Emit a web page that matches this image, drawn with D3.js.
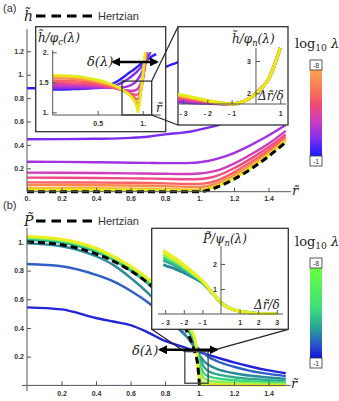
<!DOCTYPE html>
<html>
<head>
<meta charset="utf-8">
<script src="https://cdn.jsdelivr.net/npm/d3@7"></script>
<style>
body { margin: 0; background: #fff; }
.tk text { font: bold 7px "Liberation Sans", Arial, sans-serif; fill: #333; }
.tk line, .tk path { stroke: #555; }
.m { font-family: "DejaVu Serif", serif; font-style: italic; fill: #222; }
.s { font-family: "Liberation Sans", Arial, sans-serif; fill: #333; }
</style>
</head>
<body>
<svg id="chart" width="339" height="401"></svg>
<script>
'use strict';

// ---- panel (a): film thickness ----
const rA = [0, 0.2, 0.4, 0.6, 0.7, 0.8, 0.9, 0.95, 1.0, 1.05, 1.1, 1.2, 1.3, 1.4, 1.5];
const hertzA = [0, 0, 0, 0, 0, 0, 0, 0, 0, 0.013, 0.038, 0.107, 0.196, 0.302, 0.423];
const colorsA = ["#2b1fff", "#7a2cf2", "#a231e2", "#cf3cbc", "#ee4a86", "#fb6063", "#fd8a4c", "#fdb83c", "#e4ec18"];
const hA = [
  [0.884, 0.886, 0.895, 0.93, 0.99, 1.065, 1.12, 1.15, 1.18, 1.21, 1.25, 1.33, 1.42, 1.52, 1.63],
  [0.448, 0.449, 0.452, 0.46, 0.47, 0.49, 0.505, 0.515, 0.53, 0.547, 0.566, 0.62, 0.69, 0.77, 0.86],
  [0.256, 0.255, 0.252, 0.248, 0.246, 0.244, 0.244, 0.246, 0.252, 0.262, 0.28, 0.33, 0.40, 0.48, 0.57],
  [0.163, 0.162, 0.16, 0.157, 0.155, 0.153, 0.151, 0.151, 0.155, 0.165, 0.18, 0.24, 0.32, 0.41, 0.52],
  [0.12, 0.119, 0.117, 0.114, 0.112, 0.11, 0.107, 0.106, 0.108, 0.117, 0.135, 0.2, 0.285, 0.38, 0.49],
  [0.08, 0.079, 0.078, 0.076, 0.074, 0.071, 0.067, 0.066, 0.067, 0.075, 0.095, 0.165, 0.255, 0.355, 0.47],
  [0.057, 0.056, 0.055, 0.053, 0.051, 0.048, 0.043, 0.04, 0.04, 0.05, 0.07, 0.14, 0.23, 0.335, 0.452],
  [0.03, 0.03, 0.029, 0.027, 0.026, 0.024, 0.02, 0.017, 0.016, 0.03, 0.055, 0.125, 0.215, 0.32, 0.44],
  [0.016, 0.016, 0.015, 0.014, 0.013, 0.012, 0.010, 0.008, 0.007, 0.02, 0.045, 0.115, 0.205, 0.31, 0.43]
];

// inset 1: h / phi_c
const r1 = [0, 0.2, 0.4, 0.6, 0.7, 0.8, 0.85, 0.9, 0.925, 0.95, 0.975, 1.0, 1.025, 1.05, 1.075, 1.1, 1.15];
const h1 = [
  [1.38, 1.385, 1.40, 1.44, 1.50, 1.60, 1.66, 1.71, 1.74, 1.77, 1.80, 1.83, 1.86, 1.88, 1.90, 1.93, 1.97],
  [1.40, 1.40, 1.40, 1.42, 1.45, 1.52, 1.57, 1.63, 1.66, 1.70, 1.74, 1.79, 1.84, 1.90, 1.97, 2.04, 2.2],
  [1.42, 1.42, 1.42, 1.41, 1.41, 1.42, 1.44, 1.48, 1.51, 1.56, 1.62, 1.70, 1.82, 2.0, 2.2, 2.4, 2.8],
  [1.45, 1.45, 1.44, 1.42, 1.40, 1.37, 1.36, 1.36, 1.37, 1.40, 1.47, 1.58, 1.77, 2.05, 2.35, 2.6, 3.0],
  [1.49, 1.48, 1.47, 1.43, 1.40, 1.35, 1.32, 1.30, 1.29, 1.30, 1.38, 1.53, 1.78, 2.1, 2.4, 2.7, 3.0],
  [1.53, 1.52, 1.50, 1.45, 1.41, 1.35, 1.31, 1.26, 1.23, 1.22, 1.33, 1.53, 1.83, 2.15, 2.45, 2.7, 3.1],
  [1.57, 1.56, 1.53, 1.47, 1.42, 1.35, 1.30, 1.23, 1.18, 1.13, 1.30, 1.55, 1.88, 2.2, 2.5, 2.8, 3.2],
  [1.60, 1.59, 1.55, 1.48, 1.43, 1.35, 1.29, 1.21, 1.15, 1.06, 1.28, 1.58, 1.93, 2.25, 2.6, 2.9, 3.3],
  [1.62, 1.61, 1.57, 1.50, 1.44, 1.35, 1.29, 1.20, 1.13, 1.00, 1.30, 1.62, 1.98, 2.3, 2.6, 2.9, 3.3]
];

// inset 2: h / phi_n against (r - 1) / delta
const d2 = [-3.2, -3, -2.5, -2, -1.5, -1, -0.5, 0, 0.25, 0.5, 0.75, 1.0];
const h2 = [
  [1.73, 1.72, 1.70, 1.69, 1.675, 1.67, 1.75, 2.0, 2.18, 2.42, 2.85, 3.4],
  [1.77, 1.76, 1.73, 1.70, 1.68, 1.67, 1.75, 2.0, 2.18, 2.42, 2.85, 3.4],
  [1.82, 1.80, 1.76, 1.72, 1.69, 1.67, 1.75, 2.0, 2.18, 2.42, 2.85, 3.4],
  [1.86, 1.84, 1.79, 1.73, 1.69, 1.67, 1.75, 2.0, 2.18, 2.42, 2.85, 3.4],
  [1.90, 1.87, 1.81, 1.75, 1.70, 1.67, 1.75, 2.0, 2.18, 2.42, 2.85, 3.4],
  [1.93, 1.90, 1.83, 1.76, 1.70, 1.67, 1.75, 2.0, 2.18, 2.42, 2.85, 3.4],
  [1.95, 1.92, 1.85, 1.77, 1.71, 1.67, 1.75, 2.0, 2.18, 2.42, 2.85, 3.4],
  [1.97, 1.94, 1.86, 1.78, 1.71, 1.67, 1.75, 2.0, 2.18, 2.42, 2.85, 3.4]
];

// ---- panel (b): pressure ----
const rB = [0, 0.2, 0.4, 0.5, 0.6, 0.7, 0.8, 0.9, 0.95, 0.975, 1.0, 1.025, 1.05, 1.1, 1.2, 1.3, 1.4, 1.5];
const rBH = [0, 0.2, 0.4, 0.5, 0.6, 0.7, 0.8, 0.9, 0.95, 0.975, 0.99, 1.0];
const hertzB = [1, 0.98, 0.917, 0.866, 0.8, 0.714, 0.6, 0.436, 0.312, 0.222, 0.141, 0];
const colorsB = ["#2323d8", "#2e5ec6", "#2a8a9c", "#2ca98e", "#3cd47e", "#7def58", "#c4f23a", "#eeee1e"];
const pB = [
  [0.544, 0.53, 0.47, 0.445, 0.42, 0.37, 0.31, 0.27, 0.25, 0.24, 0.232, 0.222, 0.213, 0.195, 0.16, 0.13, 0.105, 0.085],
  [0.846, 0.83, 0.77, 0.725, 0.66, 0.58, 0.48, 0.37, 0.31, 0.28, 0.25, 0.225, 0.2, 0.17, 0.13, 0.1, 0.08, 0.065],
  [0.99, 0.97, 0.9, 0.84, 0.75, 0.645, 0.52, 0.38, 0.3, 0.255, 0.21, 0.17, 0.145, 0.115, 0.085, 0.067, 0.055, 0.046],
  [1.015, 0.995, 0.93, 0.875, 0.8, 0.71, 0.59, 0.44, 0.35, 0.29, 0.2, 0.13, 0.1, 0.078, 0.057, 0.045, 0.037, 0.032],
  [1.025, 1.005, 0.94, 0.885, 0.815, 0.725, 0.615, 0.465, 0.37, 0.30, 0.16, 0.085, 0.065, 0.05, 0.036, 0.028, 0.023, 0.02],
  [1.03, 1.01, 0.948, 0.892, 0.822, 0.735, 0.625, 0.475, 0.38, 0.31, 0.12, 0.05, 0.035, 0.026, 0.019, 0.015, 0.012, 0.01],
  [1.035, 1.015, 0.953, 0.897, 0.828, 0.742, 0.632, 0.482, 0.386, 0.315, 0.07, 0.02, 0.015, 0.011, 0.008, 0.006, 0.005, 0.004],
  [1.04, 1.02, 0.958, 0.902, 0.834, 0.748, 0.638, 0.488, 0.392, 0.32, 0.03, 0.005, 0.004, 0.003, 0.002, 0.001, 0.001, 0]
];

// inset 3: P / psi_n against (r - 1) / delta
const d3x = [-3.1, -3, -2.5, -2, -1.5, -1, -0.5, 0, 0.5, 1, 1.5, 2, 2.5, 3];
const p3 = [
  [1.98, 1.94, 1.82, 1.65, 1.46, 1.25, 0.86, 0.45, 0.22, 0.11, 0.055, 0.025, 0.01, 0.003],
  [2.16, 2.12, 1.96, 1.76, 1.53, 1.28, 0.87, 0.45, 0.22, 0.11, 0.055, 0.025, 0.01, 0.003],
  [2.26, 2.22, 2.04, 1.82, 1.57, 1.30, 0.88, 0.45, 0.22, 0.11, 0.055, 0.025, 0.01, 0.003],
  [2.37, 2.32, 2.12, 1.88, 1.60, 1.31, 0.88, 0.45, 0.22, 0.11, 0.055, 0.025, 0.01, 0.003],
  [2.45, 2.4, 2.18, 1.92, 1.63, 1.32, 0.88, 0.45, 0.22, 0.11, 0.055, 0.025, 0.01, 0.003],
  [2.54, 2.49, 2.25, 1.97, 1.66, 1.33, 0.88, 0.45, 0.22, 0.11, 0.055, 0.025, 0.01, 0.003]
];
const colors3 = ["#2a8a9c", "#2ca98e", "#3cd47e", "#7def58", "#c4f23a", "#eeee1e"];

const ticksA = [0.2, 0.4, 0.6, 0.8, 1, 1.2];
const ticksAx = [0, 0.2, 0.4, 0.6, 0.8, 1, 1.2, 1.4];
const ticksBy = [0.2, 0.4, 0.6, 0.8, 1];
const ticksBx = [0.2, 0.4, 0.6, 0.8, 1, 1.2, 1.4];

const svg = d3.select("#chart");
const defs = svg.append("defs");

const fmtM = d => Number.isInteger(d) ? d + "." : String(d);
const fmtI = d => d < 0 ? "- " + (-d) : String(d);

function clip(id, x, y, w, h) {
  defs.append("clipPath").attr("id", id).append("rect")
    .attr("x", x).attr("y", y).attr("width", w).attr("height", h);
}

function axis(g, scale, side, ticks, fmt, pos, pad) {
  const a = (side === "left" ? d3.axisLeft(scale) : d3.axisBottom(scale))
    .tickValues(ticks).tickFormat(fmt).tickSizeInner(-4).tickSizeOuter(0).tickPadding(pad);
  const ax = g.append("g").attr("class", "tk")
    .attr("transform", side === "left" ? `translate(${pos},0)` : `translate(0,${pos})`)
    .call(a);
  ax.select(".domain").remove();
  return ax;
}

function line(g, x0, y0, x1, y1, w, col) {
  g.append("line").attr("x1", x0).attr("y1", y0).attr("x2", x1).attr("y2", y1)
    .attr("stroke", col || "#555").attr("stroke-width", w || 1);
}

function curves(g, data, xs, xScale, yScale, colors, width, clipId) {
  const gen = d3.line().x((d, i) => xScale(xs[i])).y(d => yScale(d)).curve(d3.curveMonotoneX);
  g.append("g").attr("clip-path", `url(#${clipId})`)
    .selectAll("path").data(data).join("path")
    .attr("d", gen).attr("fill", "none")
    .attr("stroke", (d, i) => colors[i]).attr("stroke-width", width)
    .attr("stroke-linejoin", "round");
}

function dashed(g, xs, ys, xScale, yScale, clipId) {
  const gen = d3.line().x((d, i) => xScale(xs[i])).y(d => yScale(d)).curve(d3.curveMonotoneX);
  g.append("path").datum(ys).attr("clip-path", `url(#${clipId})`)
    .attr("d", gen).attr("fill", "none").attr("stroke", "#000")
    .attr("stroke-width", 3).attr("stroke-dasharray", "7,4");
}

function mathText(g, x, y, size, parts) {
  const t = g.append("text").attr("class", "m").attr("x", x).attr("y", y).attr("font-size", size);
  parts.forEach(p => {
    const s = t.append("tspan").text(p[0]);
    if (p[1] === "sub") s.attr("font-size", size * 0.7).attr("dy", size * 0.25);
    if (p[1] === "up") s.attr("dy", -size * 0.25);
    if (p[2]) s.style("font-style", p[2]);
  });
  return t;
}

defs.append("marker").attr("id", "ah").attr("viewBox", "0 0 10 10")
  .attr("refX", 8).attr("refY", 5).attr("markerWidth", 3.6).attr("markerHeight", 3.6)
  .attr("orient", "auto-start-reverse")
  .append("path").attr("d", "M0,0L10,5L0,10z").attr("fill", "#000");

function arrow(g, x0, x1, y) {
  g.append("line").attr("x1", x0).attr("x2", x1).attr("y1", y).attr("y2", y)
    .attr("stroke", "#000").attr("stroke-width", 2.5)
    .attr("marker-start", "url(#ah)").attr("marker-end", "url(#ah)");
}

function legend(g, y, sym) {
  mathText(g, 24, y + 5, 14, [[sym]]);
  g.append("line").attr("x1", 36).attr("x2", 93).attr("y1", y).attr("y2", y)
    .attr("stroke", "#000").attr("stroke-width", 3).attr("stroke-dasharray", "9.5,6");
  g.append("text").attr("class", "s").attr("x", 98).attr("y", y + 4).attr("font-size", 11).text("Hertzian");
}

function colorbar(g, id, stops, top, bottom) {
  const grad = defs.append("linearGradient").attr("id", id)
    .attr("x1", 0).attr("x2", 0).attr("y1", 0).attr("y2", 1);
  stops.forEach(s => grad.append("stop").attr("offset", s[0]).attr("stop-color", s[1]));
  mathText(g, 295, top - 12, 13, [["log", null, "normal"], ["10", "sub", "normal"], [" λ", "up", "italic"]]);
  g.append("rect").attr("x", 310).attr("y", top + 8).attr("width", 12).attr("height", bottom - top - 8)
    .attr("fill", `url(#${id})`);
  [["-8", top], ["-1", bottom]].forEach(b => {
    g.append("rect").attr("x", 310).attr("y", b[1]).attr("width", 12).attr("height", 10)
      .attr("fill", "#fff").attr("stroke", "#333").attr("stroke-width", 0.8);
    g.append("text").attr("class", "s").attr("x", 316).attr("y", b[1] + 7.5)
      .attr("text-anchor", "middle").attr("font-size", 7).text(b[0]);
  });
}

// ================= panel (a) =================
const gA = svg.append("g");
const xA = d3.scaleLinear([0, 1.5], [27, 285.75]);
const yA = d3.scaleLinear([0, 1.2], [191.7, 51.3]);
clip("clipA", 27, 28, 265, 166);

gA.append("text").attr("class", "s").attr("x", 3).attr("y", 12).attr("font-size", 11).text("(a)");
legend(gA, 16, "h\u0303");

curves(gA, hA, rA, xA, yA, colorsA, 2.4, "clipA");
dashed(gA, rA, hertzA, xA, yA, "clipA");
line(gA, xA(0), yA(0), xA(0), yA(1.39));
line(gA, xA(0), yA(0), xA(1.53), yA(0));
axis(gA, yA, "left", ticksA, fmtM, xA(0), 3);
axis(gA, xA, "bottom", ticksAx, fmtM, yA(0), 4);
mathText(gA, 292, 195, 13, [["r\u0303"]]);

// inset 1
const x1 = d3.scaleLinear([0, 1], [52.7, 142.7]);
const y1 = d3.scaleLinear([1, 2], [112.3, 52.3]);
gA.append("rect").attr("x", 35.7).attr("y", 26.7).attr("width", 130).attr("height", 105)
  .attr("fill", "#fff").attr("stroke", "#333").attr("stroke-width", 1.3);
clip("clip1", 53, y1(2), 112, 62);
curves(gA, h1, r1, x1, y1, colorsA, 2.4, "clip1");
line(gA, x1(0), 115, x1(0), 50);
line(gA, x1(0), 115, x1(1.2), 115);
axis(gA, y1, "left", [1, 1.5, 2], fmtM, x1(0), 4);
axis(gA, x1, "bottom", [0.5, 1], fmtM, 115, 6);
mathText(gA, 38, 42, 12, [["h\u0303/φ"], ["c", "sub"], ["(λ)", "up"]]);
mathText(gA, 156, 112, 12, [["r\u0303"]]);
gA.append("rect").attr("x", x1(0.77)).attr("y", y1(1.52)).attr("width", x1(1.1) - x1(0.77))
  .attr("height", 115 - y1(1.52)).attr("fill", "none").attr("stroke", "#333").attr("stroke-width", 1.3);
arrow(gA, x1(0.67), x1(1.16), y1(1.84));
mathText(gA, 87, 66, 13, [["δ(λ)"]]);
line(gA, x1(1.1), y1(1.52), 178, 26.7, 1.2, "#222");
line(gA, x1(1.1), 115, 178, 125, 1.2, "#222");

// inset 2
const x2 = d3.scaleLinear([-3, 1], [183, 280.3]);
const y2 = d3.scaleLinear([2, 3], [93.3, 61]);
gA.append("rect").attr("x", 178).attr("y", 26.7).attr("width", 110).attr("height", 98.3)
  .attr("fill", "#fff").attr("stroke", "#333").attr("stroke-width", 1.3);
clip("clip2", 178, 40, 110, 66);
curves(gA, h2, d2, x2, y2, colorsA.slice(1), 3, "clip2");
line(gA, x2(0), 104, x2(0), 48);
line(gA, 179, 104, 286, 104);
axis(gA, y2, "left", [2, 3], fmtI, x2(0), 5);
axis(gA, x2, "bottom", [-3, -2, -1, 1], fmtI, 104, 7);
mathText(gA, 232, 43, 12, [["h\u0303/φ"], ["n", "sub"], ["(λ)", "up"]]);
mathText(gA, 258, 100, 12, [["Δr\u0303/δ"]]);

colorbar(gA, "gradA", [[0, "#fba84c"], [0.3, "#f76a5e"], [0.42, "#f04a74"], [0.62, "#c63cc6"],
  [0.8, "#8230f0"], [1, "#1a1aff"]], 60, 156);

// ================= panel (b) =================
const gB = svg.append("g");
const xB = d3.scaleLinear([0, 1.5], [27, 285.75]);
const yB = d3.scaleLinear([0, 1], [385.4, 241.9]);
clip("clipB", 27, 227, 265, 160);

gB.append("text").attr("class", "s").attr("x", 3).attr("y", 209).attr("font-size", 11).text("(b)");
legend(gB, 221, "P\u0303");

curves(gB, pB, rB, xB, yB, colorsB, 2.4, "clipB");
dashed(gB, rBH, hertzB, xB, yB, "clipB");
line(gB, xB(0), yB(-0.04), xB(0), yB(1.1));
line(gB, xB(-0.03), yB(0), xB(1.53), yB(0));
axis(gB, yB, "left", ticksBy, fmtM, xB(0), 3);
axis(gB, xB, "bottom", ticksBx, fmtM, yB(0), 6);
mathText(gB, 291, 388, 13, [["r\u0303"]]);

// zoom box and arrow in main plot
gB.append("rect").attr("x", xB(0.915)).attr("y", yB(0.235)).attr("width", xB(1.05) - xB(0.915))
  .attr("height", yB(0.015) - yB(0.235)).attr("fill", "none").attr("stroke", "#444").attr("stroke-width", 1.3);
line(gB, 151.7, 329.3, xB(0.915), yB(0.235), 1.2, "#222");
line(gB, 288.3, 329.3, xB(1.05), yB(0.235), 1.2, "#222");
arrow(gB, xB(0.77), xB(1.1), yB(0.248));
mathText(gB, 132, 355, 13, [["δ(λ)"]]);

// inset 3
const x3 = d3.scaleLinear([0, 1], [221, 239.6]);
const y3 = d3.scaleLinear([0, 1], [314, 289]);
gB.append("rect").attr("x", 151.7).attr("y", 228.3).attr("width", 136.6).attr("height", 101)
  .attr("fill", "#fff").attr("stroke", "#333").attr("stroke-width", 1.3);
clip("clip3", 152, 246, 136, 69);
curves(gB, p3, d3x, x3, y3, colors3, 3, "clip3");
line(gB, x3(0), y3(0), x3(0), 246);
line(gB, 158, y3(0), 283, y3(0));
axis(gB, y3, "left", [1, 2], fmtI, x3(0), 4);
axis(gB, x3, "bottom", [-3, -2, -1, 1, 2, 3], fmtI, y3(0), 6);
mathText(gB, 203, 243, 12, [["P\u0303/ψ"], ["n", "sub"], ["(λ)", "up"]]);
mathText(gB, 254, 309, 12, [["Δr\u0303/δ"]]);

colorbar(gB, "gradB", [[0, "#6cff3c"], [0.45, "#3ee07a"], [0.68, "#2aa09a"], [0.85, "#2a56c8"],
  [1, "#1414d8"]], 258, 358);
</script>
</body>
</html>
